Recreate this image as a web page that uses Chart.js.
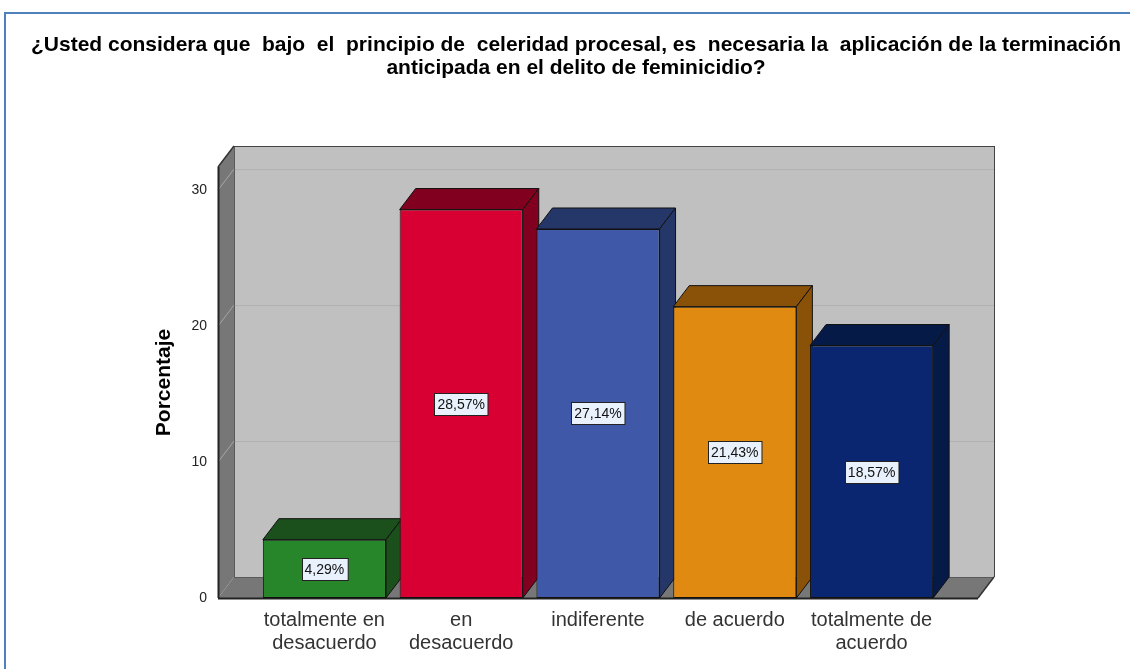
<!DOCTYPE html>
<html>
<head>
<meta charset="utf-8">
<script src="https://cdn.jsdelivr.net/npm/chart.js@4.4.1/dist/chart.umd.min.js"></script>
<style>
  html, body { margin: 0; padding: 0; background: #fff; }
  #wrap { width: 1130px; height: 669px; position: relative; }
</style>
</head>
<body>
<div id="wrap"><canvas id="chart"></canvas></div>
<script>
const categories = [['totalmente en', 'desacuerdo'], ['en', 'desacuerdo'], 'indiferente', 'de acuerdo', ['totalmente de', 'acuerdo']];
const percentages = [4.29, 28.57, 27.14, 21.43, 18.57];
const yTicks = [0, 10, 20, 30];

const frontColors = ['#27862a', '#d80032', '#3f59a8', '#e08a12', '#0b2671'];
const sideColors = ['#1b4f1b', '#82001f', '#243768', '#8a5208', '#061a48'];

const FONT = "'Liberation Sans', Arial, sans-serif";
const DX = 16, DY = -21, MARGIN = 38;

function poly(ctx, pts, fill, stroke, lw) {
  ctx.beginPath();
  ctx.moveTo(pts[0][0], pts[0][1]);
  for (let i = 1; i < pts.length; i++) ctx.lineTo(pts[i][0], pts[i][1]);
  ctx.closePath();
  if (fill) { ctx.fillStyle = fill; ctx.fill(); }
  if (stroke) { ctx.strokeStyle = stroke; ctx.lineWidth = lw || 1; ctx.stroke(); }
}

function line(ctx, x1, y1, x2, y2, color, lw) {
  ctx.beginPath();
  ctx.moveTo(x1, y1);
  ctx.lineTo(x2, y2);
  ctx.strokeStyle = color;
  ctx.lineWidth = lw || 1;
  ctx.stroke();
}

// draws the frame, the 3d walls and the extra bar faces
const box3d = {
  id: 'box3d',
  beforeDraw(chart) {
    const { ctx, width, height } = chart;
    ctx.save();
    ctx.fillStyle = '#fff';
    ctx.fillRect(0, 0, width, height);
    ctx.strokeStyle = '#4f81bd';
    ctx.lineWidth = 2;
    ctx.strokeRect(5, 13, width + 20, height + 20);
    ctx.restore();
  },
  beforeDatasetsDraw(chart) {
    const { ctx, chartArea: a, scales: { y } } = chart;
    const L = a.left - MARGIN, R = a.right + MARGIN, T = a.top, B = a.bottom;
    ctx.save();

    // back wall
    ctx.fillStyle = '#c0c0c0';
    ctx.fillRect(L + DX, T + DY, R - L, B - T);
    // side wall and floor
    poly(ctx, [[L, B], [L, T], [L + DX, T + DY], [L + DX, B + DY]], '#777777');
    poly(ctx, [[L, B], [L + DX, B + DY], [R + DX, B + DY], [R, B]], '#777777');

    // grid lines on the back and side wall
    y.ticks.forEach(t => {
      if (t.value === 0) return;
      const py = y.getPixelForValue(t.value);
      line(ctx, L + DX, py + DY + 0.5, R + DX, py + DY + 0.5, '#b0b0b0');
      line(ctx, L, py, L + DX, py + DY, '#a6a6a6');
    });

    // edges
    line(ctx, L + DX + 0.5, T + DY, L + DX + 0.5, B + DY, '#5a5a5a');
    line(ctx, L + DX, B + DY + 0.5, R + DX, B + DY + 0.5, '#5a5a5a');
    line(ctx, L + DX, T + DY + 0.5, R + DX, T + DY + 0.5, '#444');
    line(ctx, R + DX + 0.5, T + DY, R + DX + 0.5, B + DY, '#444');
    line(ctx, L, T, L + DX, T + DY, '#333', 1.5);
    line(ctx, R, B, R + DX, B + DY, '#333', 1.5);
    line(ctx, L + 0.5, T, L + 0.5, B, '#222', 2);
    line(ctx, L, B + 0.5, R, B + 0.5, '#222', 2);

    // top and side faces of the bars
    const meta = chart.getDatasetMeta(0);
    meta.data.forEach((el, i) => {
      const w = el.width / 2;
      const l = el.x - w, r = el.x + w, top = el.y, bot = el.base;
      poly(ctx, [[l, top], [l + DX, top + DY], [r + DX, top + DY], [r, top]], sideColors[i], '#111');
      poly(ctx, [[r, top], [r + DX, top + DY], [r + DX, bot + DY], [r, bot]], sideColors[i], '#111');
    });
    ctx.restore();
  },
  afterDatasetsDraw(chart) {
    const { ctx } = chart;
    const meta = chart.getDatasetMeta(0);
    ctx.save();
    ctx.font = '14px ' + FONT;
    ctx.textAlign = 'center';
    ctx.textBaseline = 'middle';
    meta.data.forEach((el, i) => {
      const txt = percentages[i].toFixed(2).replace('.', ',') + '%';
      const cy = Math.round((el.y + el.base) / 2);
      const tw = ctx.measureText(txt).width + 6;
      const bx = Math.round(el.x - tw / 2) + 0.5, by = cy - 11 + 0.5;
      ctx.fillStyle = '#e8f1fc';
      ctx.fillRect(bx, by, tw, 22);
      ctx.strokeStyle = '#222';
      ctx.lineWidth = 1;
      ctx.strokeRect(bx, by, tw, 22);
      ctx.fillStyle = '#111';
      ctx.fillText(txt, el.x, cy + 1);
    });
    ctx.restore();
  }
};

new Chart(document.getElementById('chart').getContext('2d'), {
  type: 'bar',
  data: {
    labels: categories,
    datasets: [{
      data: percentages,
      backgroundColor: frontColors,
      borderColor: '#111',
      borderWidth: 1,
      borderSkipped: false,
      categoryPercentage: 1.0,
      barPercentage: 0.9
    }]
  },
  options: {
    responsive: true,
    maintainAspectRatio: false,
    animation: false,
    layout: { padding: { left: 22, right: 0, top: 0, bottom: 0 } },
    plugins: {
      legend: { display: false },
      tooltip: { enabled: false },
      title: {
        display: true,
        text: ['¿Usted considera que  bajo  el  principio de  celeridad procesal, es  necesaria la  aplicación de la terminación',
               'anticipada en el delito de feminicidio?'],
        color: '#000',
        font: { family: FONT, size: 21, weight: 'bold', lineHeight: 23 / 21 },
        padding: { top: 34, bottom: 87 }
      }
    },
    scales: {
      x: {
        grid: { display: false, drawTicks: false },
        border: { display: false },
        ticks: {
          color: '#333',
          padding: 11,
          maxRotation: 0,
          autoSkip: false,
          font: { family: FONT, size: 20, lineHeight: 1.15 }
        },
        afterFit(s) { s.height = 71; }
      },
      y: {
        min: 0,
        max: 31.7,
        grid: { display: false, drawTicks: false },
        border: { display: false },
        afterBuildTicks(s) { s.ticks = yTicks.map(v => ({ value: v })); },
        ticks: {
          color: '#222',
          padding: 49,
          font: { family: FONT, size: 14 }
        },
        title: {
          display: true,
          text: 'Porcentaje',
          color: '#000',
          font: { family: FONT, size: 21, weight: 'bold', lineHeight: 1.2 },
          padding: { top: 130, bottom: 0 }
        },
        afterFit(s) { s.width = 234; }
      },
      yR: {
        type: 'linear',
        position: 'right',
        grid: { display: false },
        border: { display: false },
        ticks: { display: false },
        afterFit(s) { s.width = 190; }
      }
    }
  },
  plugins: [box3d]
});
</script>
</body>
</html>
